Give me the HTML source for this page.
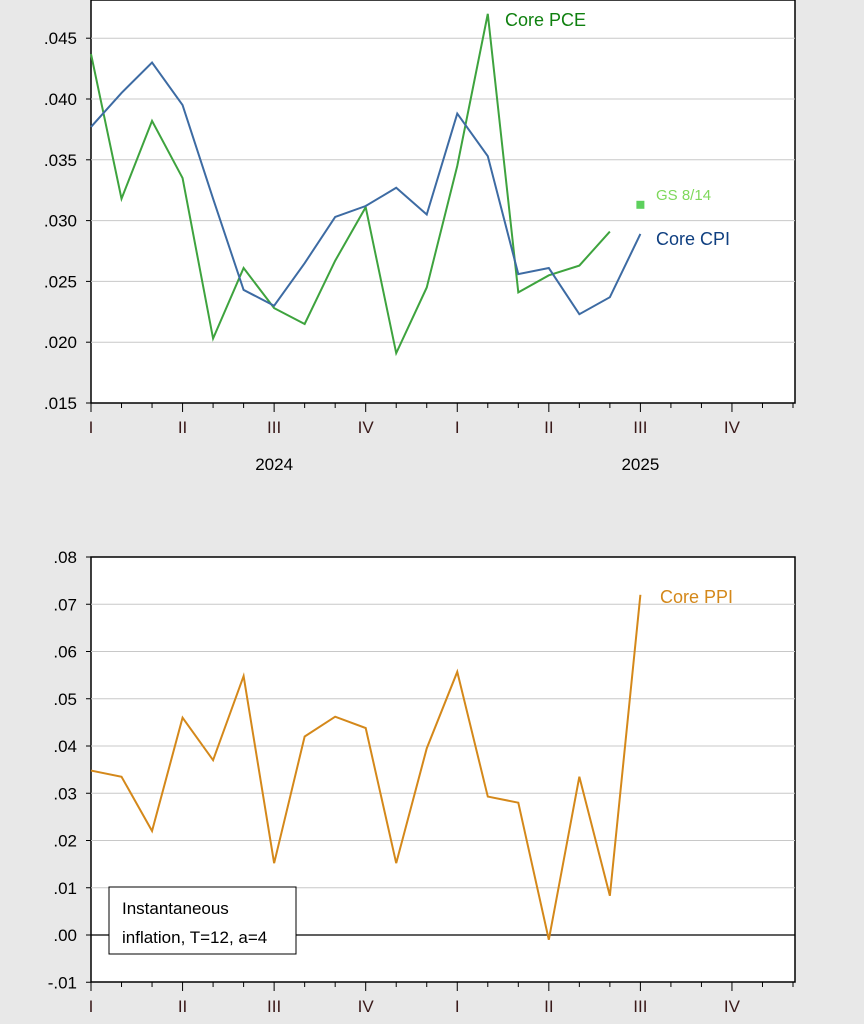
<!DOCTYPE html>
<html><head><meta charset="utf-8"><style>
body{margin:0;background:#e8e8e8;}
svg{display:block;font-family:"Liberation Sans",Arial,sans-serif;}
</style></head><body>
<svg id="c" width="864" height="1024"></svg>
<script>
const months = 24;
const cpiVals = [.0377,.0405,.0430,.0395,.0318,.0243,.0230,.0265,.0303,.0312,.0327,.0305,.0388,.0353,.0256,.0261,.0223,.0237,.0289];
const pceVals = [.0437,.0318,.0382,.0335,.0203,.0261,.0228,.0215,.0267,.0311,.0191,.0245,.0345,.0470,.0241,.0255,.0263,.0291];
const gsVal = [18, .0313];
const ppiVals = [.0348,.0335,.0220,.0460,.0370,.0548,.0152,.0420,.0462,.0438,.0152,.0395,.0557,.0293,.0280,-.0010,.0335,.0083,.0720];
const topTicks = [.015,.020,.025,.030,.035,.040,.045];
const topTickLabels = [".015",".020",".025",".030",".035",".040",".045"];
const botTicks = [-.01,0,.01,.02,.03,.04,.05,.06,.07,.08];
const botTickLabels = ["-.01",".00",".01",".02",".03",".04",".05",".06",".07",".08"];
const quarterLabels = ["I","II","III","IV","I","II","III","IV"];
const years = ["2024","2025"];

const svg = document.getElementById('c');
const NS = 'http://www.w3.org/2000/svg';
function mk(tag, attrs, parent){const e=document.createElementNS(NS,tag);for(const k in attrs)e.setAttribute(k,attrs[k]);(parent||svg).appendChild(e);return e;}
const L=91,R=795;
const xS = i => L + i*(R-L-2)/23;
const yTop = v => 403 - (v-.015)/.005*60.8;
const yBot = v => 935 - v/.01*47.25;

function panel(top,bottom,ys,ticks,labels,name){
  const g=mk('g',{});
  
  
  mk('rect',{x:L,y:top,width:R-L,height:bottom-top,fill:'#fff',stroke:'#000','stroke-width':1.5},g);
  ticks.forEach((t,i)=>{
    const y=ys(t);
    if(y>top+1&&y<bottom-1) mk('line',{x1:L,x2:R,y1:y,y2:y,stroke:'#c8c8c8','stroke-width':1},g);
    mk('line',{x1:L-5,x2:L,y1:y,y2:y,stroke:'#000'},g);
    const tx=mk('text',{x:77,y:y+6,'text-anchor':'end','font-size':17},g);
    tx.textContent=labels[i];
    
    
  });
  for(let i=0;i<months;i++){
    const x=xS(i);
    mk('line',{x1:x,x2:x,y1:bottom,y2:bottom+(i%3==0?9:5),stroke:'#000'},g);
  }
  quarterLabels.forEach((q,i)=>{
    const t=mk('text',{x:xS(i*3),y:bottom+30,'text-anchor':'middle','font-size':17,fill:'#3a1a1a'},g);
    t.textContent=q;
    
    
  });
  return g;
}
function line(vals,ys,color,name){
  const p=mk('polyline',{points:vals.map((v,i)=>xS(i)+','+ys(v)).join(' '),fill:'none',stroke:color,'stroke-width':2});
  
  
}
function label(x,y,txt,color,size,name){
  const t=mk('text',{x:x,y:y,fill:color,'font-size':size});t.textContent=txt;
  
  
}
panel(0,403,yTop,topTicks,topTickLabels,'top-panel');
years.forEach((y,i)=>{
  const t=mk('text',{x:xS(6+12*i),y:470,'text-anchor':'middle','font-size':17});t.textContent=y;
  
  
});
line(pceVals,yTop,'#3ea33e','core-pce-line');
line(cpiVals,yTop,'#3d6ba3','core-cpi-line');
const sq=mk('rect',{x:xS(gsVal[0])-4,y:yTop(gsVal[1])-4,width:8,height:8,fill:'#5dd05d'});


label(505,26,'Core PCE','#0f800f',18,'core-pce-label');
label(656,200,'GS 8/14','#7ed85a',15,'gs-label');
label(656,245,'Core CPI','#0f3f80',18,'core-cpi-label');

panel(557,982,yBot,botTicks,botTickLabels,'bottom-panel');
mk('line',{x1:L,x2:R,y1:yBot(0),y2:yBot(0),stroke:'#000','stroke-width':1.2});
line(ppiVals,yBot,'#d4881a','core-ppi-line');
label(660,603,'Core PPI','#d4881a',18,'core-ppi-label');
const box=mk('g',{});


mk('rect',{x:109,y:887,width:187,height:67,fill:'#fff',stroke:'#000'},box);
const t1=mk('text',{x:122,y:914,'font-size':17},box);t1.textContent='Instantaneous';
const t2=mk('text',{x:122,y:943,'font-size':17},box);t2.textContent='inflation, T=12, a=4';
</script>
</body></html>
